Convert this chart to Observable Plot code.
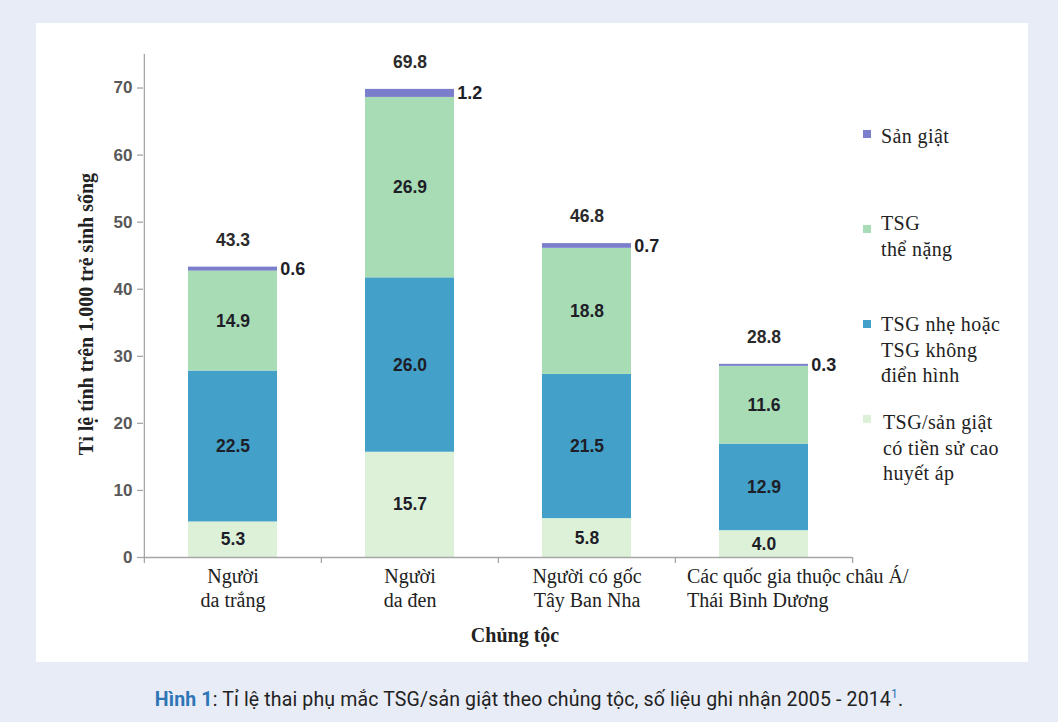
<!DOCTYPE html>
<html>
<head>
<meta charset="utf-8">
<script src="https://cdn.jsdelivr.net/npm/d3@7"></script>
<script src="https://cdn.jsdelivr.net/npm/@observablehq/plot@0.6"></script>
<style>
  html, body { margin: 0; padding: 0; }
  body { width: 1058px; height: 722px; background: #e8ecf6; position: relative; overflow: hidden; }
  #panel { position: absolute; left: 36px; top: 23px; width: 992px; height: 639px; background: #ffffff; }
  #chart { position: absolute; left: 0; top: 0; }
  #legend { position: absolute; left: 0; top: 0; font-family: "Liberation Serif", "Times New Roman", serif; font-size: 20px; letter-spacing: 0.4px; color: #222; }
  .litem { position: absolute; line-height: 25.5px; white-space: nowrap; }
  .lsq { position: absolute; width: 8px; height: 8px; }
  #caption { position: absolute; left: 0; width: 1058px; top: 687px; text-align: center; font-family: Roboto, "Noto Sans", sans-serif; font-size: 19.5px; letter-spacing: 0.15px; color: #222; }
  #caption b { color: #2e75b6; font-weight: 700; }
  #caption sup { color: #2e75b6; font-size: 12px; }
</style>
</head>
<body>
<div id="panel">
  <div id="chart"></div>
  <div id="legend"></div>
</div>
<div id="caption"></div>
<script>
// ---- data ----
const categories = ["Người da trắng", "Người da đen", "Người có gốc Tây Ban Nha", "Các quốc gia thuộc châu Á/Thái Bình Dương"];
const tickLabels = ["Người\nda trắng", "Người\nda đen", "Người có gốc\nTây Ban Nha", "Các quốc gia thuộc châu Á/\nThái Bình Dương"];
const seriesNames = ["TSG/sản giật có tiền sử cao huyết áp", "TSG nhẹ hoặc TSG không điển hình", "TSG thể nặng", "Sản giật"];
const legendLabels = ["TSG/sản giật\ncó tiền sử cao\nhuyết áp", "TSG nhẹ hoặc\nTSG không\nđiển hình", "TSG\nthể nặng", "Sản giật"];
const tienSu   = [5.3, 15.7, 5.8, 4.0];
const nhe      = [22.5, 26.0, 21.5, 12.9];
const nang     = [14.9, 26.9, 18.8, 11.6];
const sanGiat  = [0.6, 1.2, 0.7, 0.3];
const totals   = [43.3, 69.8, 46.8, 28.8];
const yTicks   = [0, 10, 20, 30, 40, 50, 60, 70];
const yTitle = "Tỉ lệ tính trên 1.000 trẻ sinh sống";
const xTitle = "Chủng tộc";
const colors = ["#ddf1d9", "#42a0c9", "#a8dcb4", "#7b7fcb"];

// ---- build table ----
const seriesValues = [tienSu, nhe, nang, sanGiat];
const rows = [];
categories.forEach((c, i) => {
  seriesNames.forEach((s, j) => rows.push({cat: c, series: s, value: seriesValues[j][i]}));
});
const totalRows = categories.map((c, i) => ({cat: c, total: totals[i]}));
const tickRows = categories.map((c, i) => ({cat: c, label: tickLabels[i]}));

const W = 992, H = 639;
const mL = 107, mR = 176, mT = 31, mB = 105;
const step = (W - mL - mR) / 4;
const half = step / 2;
const bw = step * 0.5;

const numFont = {fontFamily: "Liberation Sans, Arial, sans-serif", fontWeight: "bold", fontSize: 17.5};
const serif = "Liberation Serif, Times New Roman, serif";
const axisColor = "#a6a6a6";

const chart = Plot.plot({
  width: W, height: H,
  marginLeft: mL, marginRight: mR, marginTop: mT, marginBottom: mB,
  style: {background: "transparent", overflow: "visible"},
  x: {domain: categories, paddingInner: 0.5, paddingOuter: 0.25, axis: null},
  y: {domain: [0, 75], axis: null},
  color: {domain: seriesNames, range: colors},
  marks: [
    Plot.barY(rows, {x: "cat", y: "value", fill: "series", order: null}),
    // axes lines
    Plot.ruleY([0], {stroke: axisColor, strokeWidth: 1.3}),
    Plot.ruleX([categories[0]], {x: d => d, dx: -half, y1: 0, y2: 75, stroke: axisColor, strokeWidth: 1.3}),
    Plot.ruleX(categories, {x: d => d, dx: -half, y1: 0, y2: 0, insetBottom: -6, stroke: axisColor, strokeWidth: 1.3}),
    Plot.ruleX([categories[3]], {x: d => d, dx: half, y1: 0, y2: 0, insetBottom: -6, stroke: axisColor, strokeWidth: 1.3}),
    // y axis ticks & labels
    Plot.axisY({ticks: yTicks, tickSize: 6, tickPadding: 5, stroke: axisColor, strokeWidth: 1.3, label: null,
      fontSize: 17, fontWeight: "bold", fontFamily: "Liberation Sans, Arial, sans-serif", color: "#595959"}),
    // inner labels
    Plot.text(rows, Plot.stackY({x: "cat", y: "value", z: "series",
      text: d => d.series === seriesNames[3] ? "" : d.value.toFixed(1),
      fill: "#1e1e28", ...numFont})),
    // sản giật labels at right
    Plot.text(rows, Plot.stackY({x: "cat", y: "value", z: "series",
      text: d => d.series === seriesNames[3] ? d.value.toFixed(1) : "",
      dx: bw / 2 + 3, textAnchor: "start", fill: "#1e1e28", ...numFont, fontSize: 18})),
    // totals
    Plot.text(totalRows, {x: "cat", y: "total", text: d => d.total.toFixed(1), dy: -27, fill: "#2a2a2a", ...numFont}),
    // x tick labels
    Plot.text(tickRows.slice(0, 3), {x: "cat", text: "label", frameAnchor: "bottom", lineAnchor: "top", dy: 8,
      lineHeight: 1.2, fontSize: 20, letterSpacing: 0.4, fontFamily: serif, fill: "#222"}),
    Plot.text(tickRows.slice(3), {x: "cat", text: "label", frameAnchor: "bottom", lineAnchor: "top", dy: 8, dx: -77,
      textAnchor: "start", lineHeight: 1.2, fontSize: 20, letterSpacing: 0.6, fontFamily: serif, fill: "#222"}),
    // titles
    Plot.text([xTitle], {text: d => d, frameAnchor: "bottom", textAnchor: "middle", dy: 84, dx: 17, fontSize: 20,
      letterSpacing: 0.5, fontWeight: "bold", fontFamily: serif, fill: "#222"}),
    Plot.text([yTitle], {text: d => d, frameAnchor: "left", textAnchor: "middle", rotate: -90, dx: -57, dy: 8,
      fontSize: 20, letterSpacing: 0.8, fontWeight: "bold", fontFamily: serif, fill: "#222"})
  ]
});
document.getElementById("chart").appendChild(chart);

// ---- legend (HTML) ----
const legendPos = [
  {text: 387, sq: 392},
  {text: 289, sq: 297},
  {text: 188, sq: 202},
  {text: 101, sq: 107}
];
const legend = document.getElementById("legend");
seriesNames.forEach((s, j) => {
  const sq = document.createElement("div");
  sq.className = "lsq";
  sq.style.left = "827px";
  sq.style.top = legendPos[j].sq + "px";
  sq.style.background = colors[j];
  legend.appendChild(sq);
  const t = document.createElement("div");
  t.className = "litem";
  t.style.left = (j === 0 ? 847 : 845) + "px";
  t.style.top = legendPos[j].text + "px";
  t.innerHTML = legendLabels[j].split("\n").join("<br>");
  legend.appendChild(t);
});

// ---- caption ----
const cap = document.getElementById("caption");
cap.innerHTML = "<b>Hình 1</b>: Tỉ lệ thai phụ mắc TSG/sản giật theo chủng tộc, số liệu ghi nhận 2005 - 2014<sup>1</sup>.";
</script>
</body>
</html>
